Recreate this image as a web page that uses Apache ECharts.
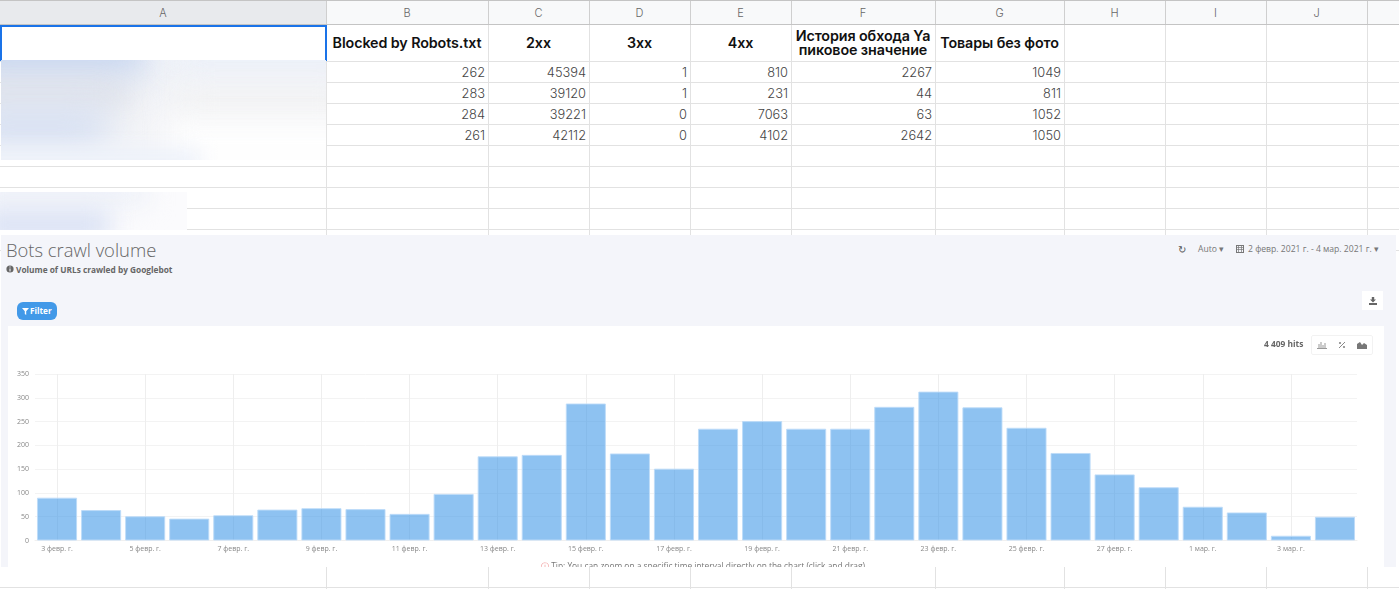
<!DOCTYPE html>
<html><head><meta charset="utf-8">
<script src="https://cdn.jsdelivr.net/npm/echarts@6/dist/echarts.min.js"></script>
<style>
html,body{margin:0;padding:0;background:#fff;width:1399px;height:589px;overflow:hidden}
.a{position:absolute;white-space:nowrap}
#sheet .h{font:300 11px Inter,sans-serif;color:#666;text-align:center;line-height:24px;top:1px;height:23px}
#sheet .hd{font:600 14.3px/14px Inter,sans-serif;color:#111;display:flex;align-items:center;justify-content:center;text-align:center;white-space:normal;letter-spacing:-.1px}
#sheet .c{font:300 12.8px/23px Inter,sans-serif;color:#444;text-align:right;box-sizing:border-box;padding-right:3px}
#panel{position:absolute;left:1px;top:235px;width:1395px;height:332px;background:#f4f5fa;overflow:hidden}
#card{position:absolute;left:7px;top:91px;width:1376px;height:241px;background:#fff;overflow:hidden}
#chart{position:absolute;left:0;top:0;width:1376px;height:241px}
.t{font-family:"Open Sans",sans-serif;color:#777}
</style></head><body>
<div id="sheet"></div>
<div id="panel">
  <div class="a t" style="left:5px;top:1px;font-size:18.4px;font-weight:300;color:#666;line-height:27px">Bots crawl volume</div>
  <svg class="a" style="left:5px;top:30px" width="8" height="8"><circle cx="4" cy="4" r="3.6" fill="#666"/><path d="M4 3.4V6.4M4 1.6V2.6" stroke="#f4f5fa" stroke-width="1.1"/></svg>
  <div class="a t" style="left:15px;top:28px;font-size:8.3px;font-weight:700;color:#666;line-height:13px">Volume of URLs crawled by Googlebot</div>
  <div class="a t" style="left:1177px;top:8px;font-size:10px;line-height:12px;color:#555">&#8635;</div>
  <div class="a t" style="left:1197px;top:8px;font-size:8.6px;line-height:12px">Auto &#9662;</div>
  <svg class="a" style="left:1235px;top:9px" width="8" height="9"><rect x="0.5" y="1.5" width="7" height="7" fill="none" stroke="#777"/><path d="M0 3.5H8M0 5.5H8M2.5 1V8M5.5 1V8" stroke="#777" stroke-width=".7"/></svg>
  <div class="a t" style="left:1247px;top:8px;font-size:8.6px;line-height:12px">2 февр. 2021 г. - 4 мар. 2021 г. &#9662;</div>
  <div class="a" style="left:16px;top:67px;width:40px;height:18px;background:#4299e8;border-radius:6px"><svg class="a" style="left:5px;top:6px" width="7" height="7"><path d="M0 0H7L4.2 3.2V7L2.8 6V3.2Z" fill="#fff"/></svg><span class="a" style="left:13px;top:0;color:#fff;font:700 8.2px/18px 'Open Sans',sans-serif">Filter</span></div>
  <div class="a" style="left:1361px;top:56px;width:21px;height:19px;background:#fff"><svg class="a" style="left:7px;top:6px" width="8" height="8"><path d="M2.8 0H5.2V2.6H7L4 5.4 1 2.6H2.8ZM0 6H8V8H0Z" fill="#666"/></svg></div>
  <div id="card">
    <div id="chart"></div>
    <div class="a t" style="left:1256px;top:12px;font-size:8.4px;font-weight:700;color:#666;line-height:12px">4 409 hits</div>
    <div class="a" style="left:1303px;top:9px;width:60px;height:18px;border:1px solid #f2f2f2;border-radius:2px">
      <svg class="a" style="left:5px;top:5px" width="10" height="8"><path d="M0 7.5H10M2 7V3M4 7V1M6 7V4M8 7V2" stroke="#999"/></svg>
      <svg class="a" style="left:26px;top:5px" width="8" height="8"><path d="M1 7L7 1" stroke="#888"/><circle cx="2" cy="2" r="1.1" fill="#888"/><circle cx="6" cy="6" r="1.1" fill="#888"/></svg>
      <svg class="a" style="left:45px;top:5px" width="10" height="8"><path d="M0 8V3L3 1 5 4 7 2 10 4V8Z" fill="#777"/></svg>
    </div>
    <div class="a t" style="left:533px;top:234px;font-size:8.4px;line-height:12px;color:#777"><span style="color:#e88">&#9432;</span> Tip: You can zoom on a specific time interval directly on the chart (click and drag)</div>
  </div>
</div>
<script>
const colLetters = ["A","B","C","D","E","F","G","H","I","J",""];
const colEdges = [0,326,488,589,690,791,935,1064,1165,1266,1367,1399];
const rowEdges = [25,61,82,103,124,145,166,187,208,229];
const headers = ["","Blocked by Robots.txt","2xx","3xx","4xx","История обхода Ya пиковое значение","Товары без фото"];
const blocked = [262,283,284,261];
const code2xx = [45394,39120,39221,42112];
const code3xx = [1,1,0,0];
const code4xx = [810,231,7063,4102];
const yaPeak = [2267,44,63,2642];
const noPhoto = [1049,811,1052,1050];
const days = ["3 февр. г.","4 февр. г.","5 февр. г.","6 февр. г.","7 февр. г.","8 февр. г.","9 февр. г.","10 февр. г.","11 февр. г.","12 февр. г.","13 февр. г.","14 февр. г.","15 февр. г.","16 февр. г.","17 февр. г.","18 февр. г.","19 февр. г.","20 февр. г.","21 февр. г.","22 февр. г.","23 февр. г.","24 февр. г.","25 февр. г.","26 февр. г.","27 февр. г.","28 февр. г.","1 мар. г.","2 мар. г.","3 мар. г.","4 мар. г."];
const hits = [90,64,51,46,53,65,68,66,56,98,177,180,288,183,151,235,251,235,235,281,313,280,237,184,139,112,71,59,10,50];

const sheet = document.getElementById('sheet');
function box(css, cls, txt){const d=document.createElement('div');d.className='a '+(cls||'');d.style.cssText=css;if(txt!==undefined)d.textContent=txt;sheet.appendChild(d);return d;}
box('left:0;top:0;width:1399px;height:25px;background:#f8f9fa');
box('left:0;top:0;width:326px;height:25px;background:#e8eaed');
box('left:0;top:0;width:1399px;height:1px;background:#c4c4c4');
box('left:0;top:24px;width:1399px;height:1px;background:#c4c4c4');
colEdges.slice(1,-1).forEach(x=>{
  box(`left:${x}px;top:1px;width:1px;height:23px;background:#cfcfcf`);
  box(`left:${x}px;top:25px;width:1px;height:564px;background:#e2e2e2`);
});
rowEdges.slice(1).forEach(y=>box(`left:0;top:${y}px;width:1399px;height:1px;background:#e2e2e2`));
box('left:0;top:587px;width:1399px;height:1px;background:#e2e2e2');
box('left:0;top:250px;width:1399px;height:1px;background:#e2e2e2');
colLetters.forEach((l,i)=>{ if(l) box(`left:${colEdges[i]}px;width:${colEdges[i+1]-colEdges[i]}px`,'h',l); });
headers.forEach((h,i)=>{ if(h) box(`left:${colEdges[i]}px;top:25px;width:${colEdges[i+1]-colEdges[i]}px;height:36px`,'hd',h); });
[blocked,code2xx,code3xx,code4xx,yaPeak,noPhoto].forEach((col,ci)=>col.forEach((v,ri)=>{
  const x=colEdges[ci+1],w=colEdges[ci+2]-x;
  box(`left:${x}px;top:${rowEdges[ri+1]}px;width:${w}px;height:21px`,'c',v);
}));
box('left:0;top:25px;width:327px;height:36px;box-sizing:border-box;border:2px solid #1a73e8;border-bottom:0;background:#fff');
const b1=box('left:1px;top:60px;width:325px;height:100px;overflow:hidden;background:#f4f5f8');
b1.innerHTML='<div style="position:absolute;left:-40px;top:-30px;width:190px;height:46px;border-radius:30px;background:#c4d4f0;filter:blur(18px)"></div>'
 +'<div style="position:absolute;left:170px;top:-30px;width:200px;height:45px;background:#ebf0f9;filter:blur(18px)"></div>'
 +'<div style="position:absolute;left:-40px;top:22px;width:170px;height:24px;background:#dadde6;filter:blur(16px)"></div>'
 +'<div style="position:absolute;left:180px;top:30px;width:170px;height:25px;background:#f3f3f3;filter:blur(16px)"></div>'
 +'<div style="position:absolute;left:-40px;top:50px;width:150px;height:36px;border-radius:20px;background:#d2ddf2;filter:blur(18px)"></div>'
 +'<div style="position:absolute;left:165px;top:60px;width:200px;height:70px;background:#fefefe;filter:blur(14px)"></div>'
 +'<div style="position:absolute;left:-40px;top:88px;width:240px;height:30px;background:#eef2fa;filter:blur(10px)"></div>';
const b2=box('left:0;top:192px;width:187px;height:38px;overflow:hidden;background:#fbfbfd');
b2.innerHTML='<div style="position:absolute;left:-20px;top:-12px;width:170px;height:26px;background:#eef1f8;filter:blur(12px)"></div>'
 +'<div style="position:absolute;left:-20px;top:18px;width:130px;height:30px;background:#d9e1f4;filter:blur(12px)"></div>';

const chart = echarts.init(document.getElementById('chart'),null,{renderer:'canvas'});
chart.setOption({
  animation:false,
  grid:{left:27,right:27,top:48,height:166.5,containLabel:false},
  xAxis:{type:'category',data:days,boundaryGap:true,
    axisLine:{show:true,lineStyle:{color:'#f0f0f0'}},axisTick:{show:false},
    axisLabel:{interval:1,fontSize:7,color:'#888',fontFamily:'Open Sans',margin:5},
    splitLine:{show:true,interval:1,alignWithLabel:true,lineStyle:{color:'#eeeeee',width:1}}},
  yAxis:{type:'value',min:0,max:350,interval:50,
    axisLine:{show:false},axisTick:{show:false},
    axisLabel:{fontSize:7,color:'#888',fontFamily:'Open Sans',margin:6},
    splitLine:{show:true,lineStyle:{color:'#f3f3f3',width:1}}},
  series:[{type:'bar',data:hits,barCategoryGap:'9%',
    itemStyle:{color:'rgba(66,153,232,0.6)',borderColor:'rgba(190,220,248,0.9)',borderWidth:1}}]
});
</script>
</body></html>
